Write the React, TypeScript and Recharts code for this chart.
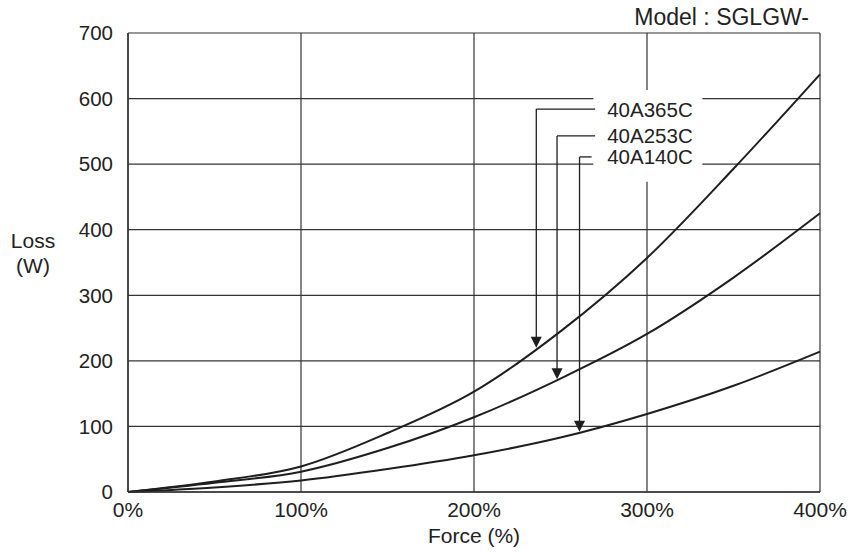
import { LineChart, Line, XAxis, YAxis, CartesianGrid, ReferenceArea, ReferenceLine, ReferenceDot } from 'recharts'

const force = [0, 50, 100, 150, 200, 250, 300, 350, 400]
const loss365 = [0, 16, 39, 90, 153, 245, 357, 493, 637]
const loss253 = [0, 14, 31, 67, 114, 173, 241, 327, 425]
const loss140 = [0, 7, 17.5, 35, 56, 83, 119, 162, 214]

const xTicks = [0, 100, 200, 300, 400]
const yTicks = [0, 100, 200, 300, 400, 500, 600, 700]

// callouts: label, where the arrow hits the curve, and where the leader bends
const callouts = [
  { name: '40A365C', tipX: 236, tipY: 220, leaderY: 584, endX: 270 },
  { name: '40A253C', tipX: 248, tipY: 172, leaderY: 543, endX: 270 },
  { name: '40A140C', tipX: 261, tipY: 92, leaderY: 511, endX: 268 },
]

const data = force.map((f, i) => ({
  force: f,
  m365: loss365[i],
  m253: loss253[i],
  m140: loss140[i],
}))

const FONT = '"Liberation Sans", Arial, Helvetica, sans-serif'
const INK = '#1e1e1e'

const Arrow = (props: any) => {
  const { cx, cy } = props
  return <path d={`M${cx},${cy} L${cx - 5.5},${cy - 11} L${cx + 5.5},${cy - 11} Z`} fill={INK} />
}

const makeLabel = (text: string) => (props: any) => (
  <text
    x={props.cx}
    y={props.cy}
    dominantBaseline="central"
    fontSize={20.5}
    fontFamily={FONT}
    fill="#222"
  >
    {text}
  </text>
)

const YLabel = (props: any) => {
  const vb = props.viewBox
  const cx = vb.x + 33
  const mid = vb.y + vb.height / 2
  return (
    <text textAnchor="middle" fontSize={21} fontFamily={FONT} fill="#222">
      <tspan x={cx} y={mid - 22} dominantBaseline="central">Loss</tspan>
      <tspan x={cx} y={mid + 3} dominantBaseline="central">(W)</tspan>
    </text>
  )
}

export default function App() {
  return (
    <div style={{ position: 'absolute', left: 0, top: 0, width: 852, height: 555, background: '#fff', fontFamily: FONT }}>
      <div style={{ position: 'absolute', right: 43, top: 4, fontSize: 23, color: '#222' }}>
        Model : SGLGW-
      </div>
      <LineChart width={852} height={555} data={data} margin={{ top: 33, right: 32, bottom: 0, left: 0 }}>
        <CartesianGrid stroke="#333" strokeWidth={1.2} />
        <XAxis
          dataKey="force"
          type="number"
          domain={[0, 400]}
          ticks={xTicks}
          tickFormatter={(v) => `${v}%`}
          height={63}
          tickLine={false}
          tickSize={6}
          tickMargin={4}
          axisLine={{ stroke: '#333', strokeWidth: 1.5 }}
          tick={{ fill: '#222', fontSize: 21, fontFamily: FONT }}
          label={{ value: 'Force (%)', position: 'insideBottom', offset: 12, fill: '#222', fontSize: 21, fontFamily: FONT }}
        />
        <YAxis
          type="number"
          domain={[0, 700]}
          ticks={yTicks}
          width={128}
          tickLine={false}
          tickSize={6}
          tickMargin={9}
          axisLine={{ stroke: '#333', strokeWidth: 1.5 }}
          tick={{ fill: '#222', fontSize: 20.5, fontFamily: FONT }}
          label={{ content: YLabel }}
        />
        <ReferenceArea x1={269} x2={332} y1={473} y2={613} fill="#fff" fillOpacity={1} stroke="none" />
        <Line type="monotone" dataKey="m365" stroke={INK} strokeWidth={2} dot={false} isAnimationActive={false} />
        <Line type="monotone" dataKey="m253" stroke={INK} strokeWidth={2} dot={false} isAnimationActive={false} />
        <Line type="monotone" dataKey="m140" stroke={INK} strokeWidth={2} dot={false} isAnimationActive={false} />
        {callouts.map((c) => (
          <ReferenceLine
            key={c.name + 'h'}
            segment={[{ x: c.tipX, y: c.leaderY }, { x: c.endX, y: c.leaderY }]}
            stroke={INK}
            strokeWidth={1.3}
          />
        ))}
        {callouts.map((c) => (
          <ReferenceLine
            key={c.name + 'v'}
            segment={[{ x: c.tipX, y: c.leaderY }, { x: c.tipX, y: c.tipY + 10 }]}
            stroke={INK}
            strokeWidth={1.3}
          />
        ))}
        {callouts.map((c) => (
          <ReferenceDot key={c.name + 'a'} x={c.tipX} y={c.tipY} r={6} shape={Arrow} />
        ))}
        {callouts.map((c) => (
          <ReferenceDot key={c.name + 't'} x={277} y={c.leaderY} r={1} shape={makeLabel(c.name)} />
        ))}
      </LineChart>
    </div>
  )
}
